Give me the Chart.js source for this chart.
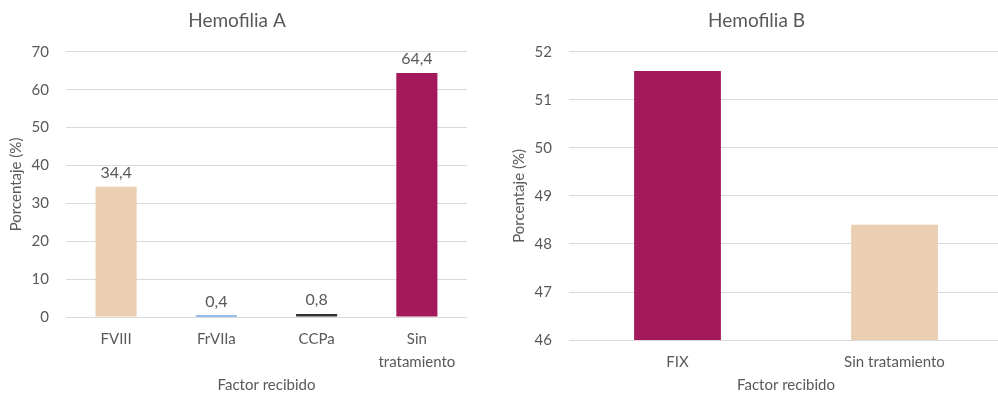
<!DOCTYPE html>
<html><head><meta charset="utf-8">
<script src="https://cdn.jsdelivr.net/npm/chart.js@4.4.1/dist/chart.umd.min.js"></script>
<style>
html,body{margin:0;padding:0;background:#fff;width:998px;height:395px;overflow:hidden;position:relative}
.box{position:absolute;top:0;height:395px}
#a{left:0;width:490px}
#b{left:498px;width:505px}
</style></head><body>
<div class="box" id="a"><canvas id="ca"></canvas></div>
<div class="box" id="b"><canvas id="cb"></canvas></div>
<script>
const catsA = [['FVIII'], ['FrVIIa'], ['CCPa'], ['Sin', 'tratamiento']];
const valsA = [34.4, 0.4, 0.8, 64.4];
const colorsA = ['#EACFB3', '#2F7BD6', '#333333', '#A4195B'];
const catsB = ['FIX', 'Sin tratamiento'];
const valsB = [51.6, 48.4];
const colorsB = ['#A4195B', '#EACFB3'];
const yTitle = 'Porcentaje (%)';
const xTitle = 'Factor recibido';

const FONT = 'Lato, "Open Sans", sans-serif';
const GRAY = '#595959';
Chart.defaults.font.family = FONT;
Chart.defaults.color = GRAY;

const labelPlugin = {
  id: 'vals',
  afterDatasetsDraw(chart, args, opts) {
    if (!opts.show) return;
    const ctx = chart.ctx;
    const meta = chart.getDatasetMeta(0);
    ctx.save();
    ctx.font = '16px ' + FONT;
    ctx.fillStyle = GRAY;
    ctx.textAlign = 'center';
    ctx.textBaseline = 'bottom';
    meta.data.forEach((el, i) => {
      const v = chart.data.datasets[0].data[i];
      ctx.fillText(v.toFixed(1).replace('.', ','), el.x, el.y - 6);
    });
    ctx.restore();
  }
};

function opts(title, min, max, step, pad, showVals) {
  return {
    responsive: true, maintainAspectRatio: false, animation: false,
    layout: { padding: pad },
    plugins: {
      legend: { display: false },
      tooltip: { enabled: false },
      title: { display: true, text: title, color: GRAY, font: { size: 19, weight: 'normal' }, padding: { top: 9, bottom: 20 } },
      vals: { show: showVals }
    },
    scales: {
      x: {
        grid: { display: false, drawTicks: false }, border: { display: false },
        ticks: { color: GRAY, font: { size: 15, lineHeight: 1.53 }, padding: 11, maxRotation: 0, autoSkip: false },
        title: { display: true, text: xTitle, color: GRAY, font: { size: 15, lineHeight: 1 }, padding: { top: -7, bottom: 2 } }
      },
      y: {
        min: min, max: max,
        grid: { color: '#D9D9D9', drawTicks: false, lineWidth: 1 }, border: { display: false },
        ticks: { stepSize: step, color: GRAY, font: { size: 15 }, padding: 17 },
        title: { display: true, text: yTitle, color: GRAY, font: { size: 15 }, padding: { top: 0, bottom: -10.4 } }
      }
    }
  };
}

new Chart(document.getElementById('ca'), {
  type: 'bar',
  data: { labels: catsA, datasets: [{ data: valsA, backgroundColor: colorsA, barPercentage: 0.41, categoryPercentage: 1 }] },
  options: opts('Hemofilia A', 0, 70, 10, { left: 7, right: 23, top: 0, bottom: 0 }, true),
  plugins: [labelPlugin]
});
new Chart(document.getElementById('cb'), {
  type: 'bar',
  data: { labels: catsB, datasets: [{ data: valsB, backgroundColor: colorsB, barPercentage: 0.40, categoryPercentage: 1 }] },
  options: opts('Hemofilia B', 46, 52, 1, { left: 12, right: 0, top: 0, bottom: 0 }, false),
  plugins: [labelPlugin]
});
</script>
</body></html>
